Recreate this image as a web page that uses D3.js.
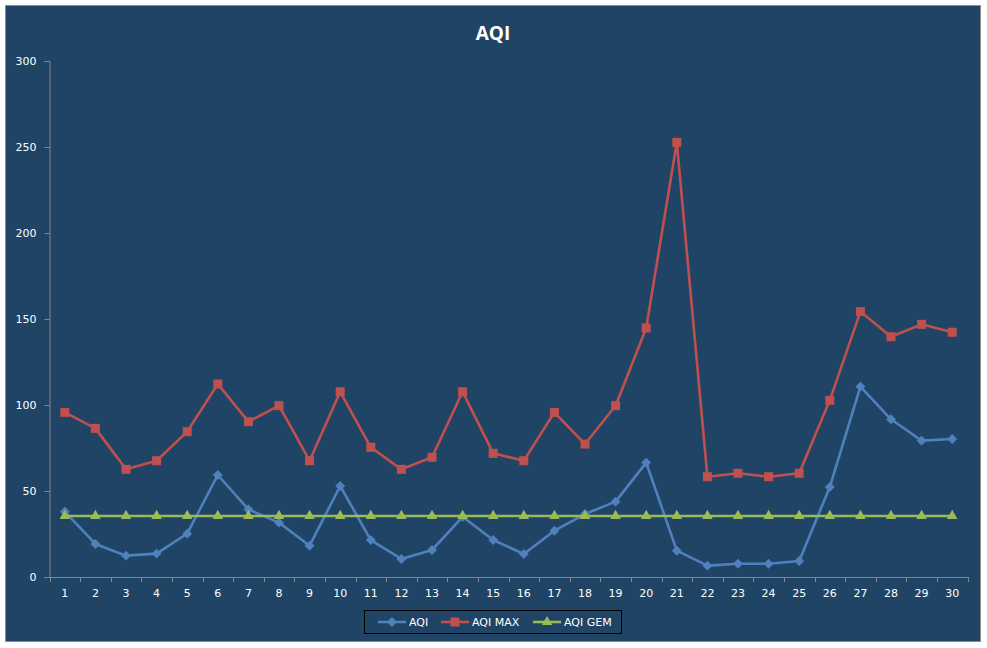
<!DOCTYPE html>
<html><head><meta charset="utf-8">
<script src="https://cdn.jsdelivr.net/npm/d3@7"></script>
<style>
html,body{margin:0;padding:0;background:#fff;}
svg{display:block;}
</style></head>
<body>
<svg id="chart" width="987" height="648"></svg>
<script>
const categories = d3.range(1, 31).map(String);
const aqi = [38, 19.2, 12.4, 13.6, 25.2, 59.3, 39.3, 31.6, 18.2, 52.9,
             21.5, 10.5, 15.7, 35, 21.5, 13.4, 26.9, 36.6, 43.8, 66.5,
             15.3, 6.6, 7.7, 7.7, 9.3, 52.3, 110.7, 91.7, 79.3, 80.2];
const aqiMax = [95.7, 86.4, 62.6, 67.6, 84.5, 112.2, 90.3, 99.6, 67.6, 107.7,
                75.4, 62.6, 69.6, 107.7, 71.9, 67.6, 95.7, 77.3, 99.6, 144.8,
                252.7, 58.3, 60.3, 58.3, 60.3, 102.7, 154.3, 139.7, 146.9, 142.3];
const aqiGem = categories.map(() => 35.5);
const yTicks = [0, 50, 100, 150, 200, 250, 300];
const seriesNames = ["AQI", "AQI MAX", "AQI GEM"];
const seriesColors = ["#4F81BD", "#C0504D", "#9BBB59"];

const svg = d3.select("#chart");
const bg = "#1F4466";
svg.append("rect").attr("x", 5.5).attr("y", 5.5).attr("width", 975).attr("height", 636)
  .attr("fill", bg).attr("stroke", "#8c8c8c").attr("stroke-width", 1);

const mLeft = 49.5, mRight = 967.5, mTop = 61, mBottom = 577;
const x = d3.scaleBand().domain(categories).range([mLeft, mRight]);
const y = d3.scaleLinear().domain([0, 300]).range([mBottom, mTop]);

const font = "Verdana, 'DejaVu Sans', sans-serif";

// title
svg.append("text").attr("x", 493).attr("y", 40).attr("text-anchor", "middle")
  .attr("fill", "#fff").attr("font-family", "'Open Sans', 'DejaVu Sans', sans-serif")
  .attr("font-weight", "bold").attr("font-size", 19).text("AQI");

// y axis
const yAxis = svg.append("g").attr("transform", `translate(${mLeft},0)`)
  .call(d3.axisLeft(y).tickValues(yTicks).tickSize(5).tickPadding(8));
yAxis.select(".domain").attr("stroke", "#868686");
yAxis.selectAll(".tick line").attr("stroke", "#868686");
yAxis.selectAll("text").attr("fill", "#fff").attr("font-family", font).attr("font-size", 11);

// x axis
const xAxis = svg.append("g").attr("transform", `translate(0,${mBottom})`)
  .call(d3.axisBottom(x).tickSize(0).tickPadding(12).tickSizeOuter(0));
xAxis.select(".domain").attr("stroke", "#868686");
xAxis.selectAll("text").attr("fill", "#fff").attr("font-family", font).attr("font-size", 11);
const bounds = categories.map(c => x(c)).concat([mRight]);
xAxis.selectAll(".bt").data(bounds).enter().append("line")
  .attr("x1", d => Math.round(d) + 0.5).attr("x2", d => Math.round(d) + 0.5)
  .attr("y1", 0).attr("y2", 5).attr("stroke", "#868686");

const cx = c => x(c) + x.bandwidth() / 2;
const line = d3.line().x((d, i) => cx(categories[i])).y(d => y(d));

const data = [aqi, aqiMax, aqiGem];

function marker(g, type, color, px, py) {
  if (type === 0) {
    g.append("rect").attr("x", -3.5).attr("y", -3.5).attr("width", 7).attr("height", 7)
      .attr("transform", `translate(${px},${py}) rotate(45)`).attr("fill", color);
  } else if (type === 1) {
    g.append("rect").attr("x", px - 4.5).attr("y", py - 4.5).attr("width", 9).attr("height", 9).attr("fill", color);
  } else {
    g.append("path").attr("d", d3.symbol(d3.symbolTriangle, 48)())
      .attr("transform", `translate(${px},${py})`).attr("fill", color);
  }
}

data.forEach((vals, si) => {
  const g = svg.append("g");
  g.append("path").datum(vals).attr("d", line).attr("fill", "none")
    .attr("stroke", seriesColors[si]).attr("stroke-width", 2.6).attr("stroke-linejoin", "round");
  vals.forEach((v, i) => marker(g, si, seriesColors[si], cx(categories[i]), y(v)));
});

// legend
const lg = svg.append("g");
lg.append("rect").attr("x", 364.5).attr("y", 610.5).attr("width", 257).attr("height", 23)
  .attr("fill", "none").attr("stroke", "#000").attr("stroke-width", 1);
const legendX = [378, 441, 533];
seriesNames.forEach((n, i) => {
  const lx = legendX[i], ly = 622;
  lg.append("line").attr("x1", lx).attr("x2", lx + 28).attr("y1", ly).attr("y2", ly)
    .attr("stroke", seriesColors[i]).attr("stroke-width", 2.6);
  marker(lg, i, seriesColors[i], lx + 14, ly);
  lg.append("text").attr("x", lx + 31).attr("y", ly + 4).attr("fill", "#fff")
    .attr("font-family", font).attr("font-size", 11).text(n);
});
</script>
</body></html>
